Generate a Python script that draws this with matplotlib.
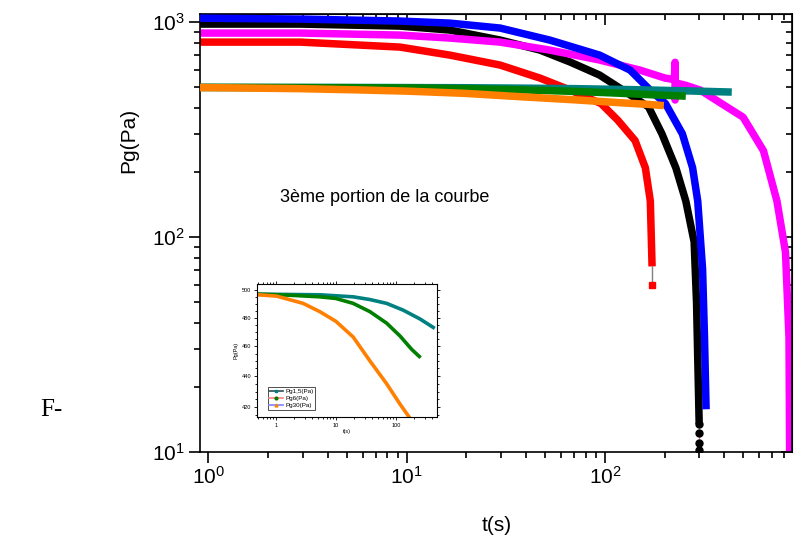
import numpy as np
import matplotlib.pyplot as plt
from matplotlib.lines import Line2D
from matplotlib.ticker import LogLocator, FixedLocator, NullFormatter, FixedFormatter

plt.rcParams['font.family'] = ['Liberation Sans', 'DejaVu Sans']
plt.rcParams['mathtext.default'] = 'regular'

# main curves: t in s, Pg in Pa
black_t = [0.8, 2.9, 9.25, 16.5, 29.6, 47, 66.7, 94, 119, 166, 194, 228, 256, 282, 290, 299]
black_p = [979, 979, 958, 918, 825, 741, 652, 567, 493, 403, 302, 210, 147, 95, 49.5, 13.5]
black_tail_t = [299, 300, 300, 300]
black_tail_p = [13.5, 12.2, 11.0, 10.2]

blue_t = [0.8, 2.9, 9.25, 16.5, 29.6, 52.6, 94, 134, 169, 202, 246, 277, 294, 311, 318, 324]
blue_p = [1044, 1033, 1011, 989, 938, 825, 702, 598, 483, 418, 302, 210, 147, 71, 34.4, 15.8]

magenta_t = [0.8, 2.9, 9.25, 16.5, 29.6, 52.6, 94, 150, 201, 224, 226, 226, 230, 254, 302, 363, 498, 631, 738, 815, 849, 855]
magenta_p = [889, 889, 870, 843, 807, 741, 666, 598, 549, 540, 650, 434, 520, 509, 483, 434, 361, 252, 147, 85, 34, 10]

red_t = [0.8, 2.9, 9.25, 16.5, 29.6, 47, 66.7, 95.6, 116, 142, 160, 169.5, 173]
red_p = [807, 807, 765, 702, 631, 549, 483, 418, 350, 281, 210, 147, 73]
red_last_t = [173, 173]
red_last_p = [73, 60]

# the three series also shown in the inset
teal_t = [0.42, 5.4, 19.4, 36.9, 70, 132, 251, 418]
teal_p = [497, 496.5, 495, 493, 490.2, 485.3, 479, 473]
green_t = [0.42, 1.5, 5.4, 10, 19.4, 36.9, 70, 117, 182, 245]
green_p = [497, 496.3, 495, 493.8, 490.2, 484.2, 476, 467, 457.9, 453]
orange_t = [0.42, 1.03, 2.85, 5.4, 10, 19.4, 36.9, 70, 117, 166, 190]
orange_p = [496.8, 495.5, 490.2, 484.2, 477.3, 466.3, 450, 435, 422, 414, 410]

legend_labels = ['Pg1,5(Pa)', 'Pg6(Pa)', 'Pg30(Pa)']

C_TEAL = '#008080'
C_GREEN = '#007f00'
C_ORANGE = '#ff8000'


def style_log_axis(ax, major_len=8, minor_len=4, width=1.2, size=15):
    ax.tick_params(which='both', width=width, labelsize=size)
    ax.tick_params(which='major', length=major_len)
    ax.tick_params(which='minor', length=minor_len)
    for s in ax.spines.values():
        s.set_linewidth(width)


def main_axes(fig):
    ax = fig.add_axes([0.2506, 0.163, 0.7425, 0.811])
    ax.set_xscale('log')
    ax.set_yscale('log')
    lw = 5.4
    ax.plot(black_t, black_p, color='black', lw=lw, solid_capstyle='butt', zorder=2)
    ax.plot(black_tail_t, black_tail_p, color='#f08080', lw=0.8, marker='o', ms=5,
            mfc='black', mec='black', zorder=2)
    ax.plot(blue_t, blue_p, color='blue', lw=lw, solid_capstyle='butt', zorder=3)
    ax.plot(red_t, red_p, color='red', lw=lw, solid_capstyle='butt', zorder=2)
    ax.plot(red_last_t, red_last_p, color='gray', lw=1.0, zorder=2)
    ax.plot(red_last_t[-1:], red_last_p[-1:], 's', color='red', ms=5, zorder=2)
    ax.plot(magenta_t, magenta_p, color='magenta', lw=lw, solid_capstyle='butt', zorder=2.5)
    ax.plot(teal_t, teal_p, color=C_TEAL, lw=lw, zorder=4)
    ax.plot(green_t, green_p, color=C_GREEN, lw=lw, zorder=4)
    ax.plot(orange_t, orange_p, color=C_ORANGE, lw=lw, zorder=4)

    ax.set_xlim(0.906, 884)
    ax.set_ylim(10, 1090)
    ax.xaxis.set_major_locator(LogLocator(base=10, numticks=10))
    ax.yaxis.set_major_locator(LogLocator(base=10, numticks=10))
    ax.xaxis.set_minor_locator(LogLocator(base=10, subs=np.arange(2, 10), numticks=20))
    ax.yaxis.set_minor_locator(LogLocator(base=10, subs=np.arange(2, 10), numticks=20))
    ax.xaxis.set_minor_formatter(NullFormatter())
    ax.yaxis.set_minor_formatter(NullFormatter())
    style_log_axis(ax)
    ax.tick_params(which='both', direction='out', top=False, right=False)
    ax.tick_params(axis='x', pad=2)
    ax.tick_params(axis='y', pad=3)

    # inward ticks on top and right, no labels
    axt = ax.secondary_xaxis('top')
    axt.set_xticks([1, 10, 100])
    axt.xaxis.set_minor_locator(LogLocator(base=10, subs=np.arange(2, 10), numticks=20))
    axt.tick_params(which='both', direction='in', labeltop=False, width=1.2)
    axt.tick_params(which='major', length=8)
    axt.tick_params(which='minor', length=4)
    axr = ax.secondary_yaxis('right')
    axr.set_yticks([10, 100, 1000])
    axr.yaxis.set_minor_locator(LogLocator(base=10, subs=np.arange(2, 10), numticks=20))
    axr.tick_params(which='both', direction='in', labelright=False, width=1.2)
    axr.tick_params(which='major', length=8)
    axr.tick_params(which='minor', length=4)

    ax.set_xlabel('t(s)', fontsize=15, labelpad=20)
    ax.set_ylabel('Pg(Pa)', fontsize=15)
    ax.yaxis.set_label_coords(-0.105, 0.712)
    ax.text(280, 540 - 197, '3ème portion de la courbe', transform=None, fontsize=13,
            va='center', ha='left')
    return ax


def inset_axes(fig):
    axi = fig.add_axes([0.3224, 0.2283, 0.2248, 0.2457])
    axi.set_xscale('log')
    axi.set_yscale('log')
    lw = 2.6
    axi.plot(teal_t, teal_p, color=C_TEAL, lw=lw)
    axi.plot(green_t, green_p, color=C_GREEN, lw=lw)
    axi.plot(orange_t, orange_p, color=C_ORANGE, lw=lw)
    axi.set_xlim(0.49, 477)
    axi.set_ylim(414.2, 504.5)
    axi.yaxis.set_major_locator(FixedLocator([420, 440, 460, 480, 500]))
    axi.yaxis.set_major_formatter(FixedFormatter(['420', '440', '460', '480', '500']))
    axi.yaxis.set_minor_locator(FixedLocator(list(range(415, 505, 5))))
    axi.yaxis.set_minor_formatter(NullFormatter())
    axi.xaxis.set_major_locator(FixedLocator([1, 10, 100]))
    axi.xaxis.set_major_formatter(FixedFormatter(['1', '10', '100']))
    axi.xaxis.set_minor_locator(LogLocator(base=10, subs=np.arange(2, 10), numticks=20))
    axi.xaxis.set_minor_formatter(NullFormatter())
    axi.tick_params(which='both', labelsize=4, width=0.6, pad=2, top=True, right=True)
    axi.tick_params(which='major', length=2.5)
    axi.tick_params(which='minor', length=1.2)
    for s in axi.spines.values():
        s.set_linewidth(0.8)
    axi.set_xlabel('t(s)', fontsize=4, labelpad=1)
    axi.set_ylabel('Pg(Pa)', fontsize=4, labelpad=2)

    handles = [
        Line2D([], [], color='#2f4f4f', lw=1.2, marker='s', ms=2, mfc=C_TEAL, mec=C_TEAL),
        Line2D([], [], color='#ff7f7f', lw=1.2, marker='o', ms=2, mfc=C_GREEN, mec=C_GREEN),
        Line2D([], [], color='#8080ff', lw=1.2, marker='^', ms=2, mfc=C_ORANGE, mec=C_ORANGE),
    ]
    leg = axi.legend(handles, legend_labels, loc='lower left', fontsize=4.5,
                     frameon=True, fancybox=False, edgecolor='black',
                     handlelength=2.2, borderpad=0.3, labelspacing=0.2,
                     handletextpad=0.3, bbox_to_anchor=(0.04, 0.03))
    leg.get_frame().set_linewidth(0.6)
    return axi


def main():
    fig = plt.figure(figsize=(7.98, 5.4), dpi=100)
    main_axes(fig)
    inset_axes(fig)
    fig.text(40 / 798, 1 - 410 / 540, 'F-', fontsize=18, family=['Liberation Serif'],
             va='center', ha='left')
    fig.savefig('out.png', dpi=100)


if __name__ == '__main__':
    main()
